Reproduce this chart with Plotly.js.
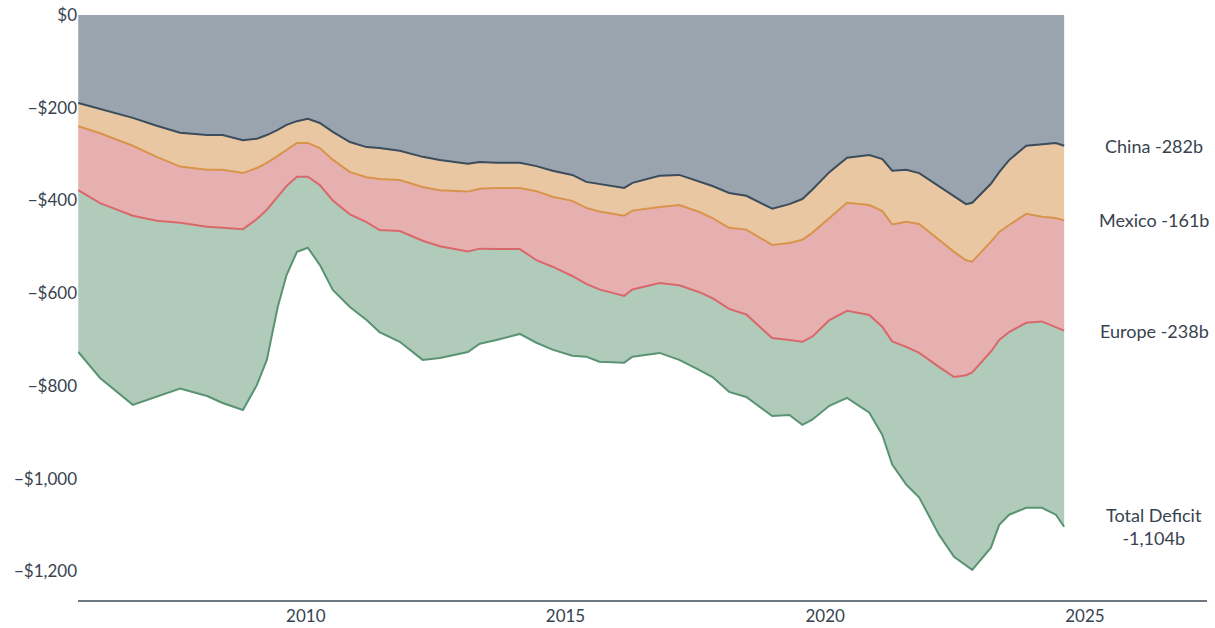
<!DOCTYPE html>
<html>
<head>
<meta charset="utf-8">
<script src="https://cdn.plot.ly/plotly-3.0.1.min.js"></script>
<style>html,body{margin:0;padding:0;background:#fff;}#chart{width:1215px;height:628px;}</style>
</head>
<body>
<div id="chart"></div>
<script>
// Time (decimal years)
const years = [2005.62,2006.04,2006.67,2007.13,2007.58,2008.10,2008.40,2008.79,2009.06,2009.25,
  2009.46,2009.63,2009.83,2010.04,2010.27,2010.52,2010.85,2011.17,2011.42,2011.81,
  2012.25,2012.58,2013.12,2013.35,2013.67,2014.12,2014.44,2014.75,2015.13,2015.40,
  2015.65,2016.13,2016.29,2016.81,2017.19,2017.58,2017.83,2018.15,2018.48,2018.98,
  2019.31,2019.56,2019.75,2020.08,2020.42,2020.85,2021.10,2021.29,2021.56,2021.81,
  2022.19,2022.48,2022.71,2022.83,2023.19,2023.35,2023.54,2023.87,2024.17,2024.44,2024.60];

// Trade deficits, billions USD (negative)
const china = [-190,-203,-222,-239,-254,-259,-259,-270,-267,-259,
  -248,-237,-229,-224,-233,-252,-274,-285,-287,-293,
  -306,-313,-321,-317,-319,-319,-326,-336,-345,-360,
  -364,-373,-362,-347,-345,-360,-369,-384,-390,-418,
  -408,-397,-377,-339,-308,-302,-311,-336,-334,-341,
  -369,-390,-408,-405,-364,-339,-313,-282,-278,-276,-282];
const mexico = [-50,-52,-60,-67,-73,-75,-75,-71,-63,-60,
  -56,-54,-47,-52,-54,-60,-65,-65,-67,-63,
  -65,-65,-60,-58,-54,-54,-54,-56,-56,-56,
  -60,-60,-60,-67,-65,-65,-69,-75,-73,-78,
  -84,-88,-93,-99,-97,-108,-112,-116,-112,-110,
  -116,-121,-121,-127,-125,-129,-140,-147,-157,-162,-161];
const europe = [-138,-151,-151,-138,-121,-123,-125,-121,-110,-101,
  -88,-78,-73,-73,-80,-88,-91,-97,-110,-110,
  -116,-121,-129,-129,-132,-132,-149,-151,-162,-164,
  -168,-173,-170,-164,-173,-173,-173,-175,-183,-201,
  -209,-220,-224,-220,-233,-237,-250,-252,-270,-278,
  -274,-270,-248,-239,-237,-233,-231,-235,-226,-235,-238];
const totalDeficit = [-727,-783,-841,-824,-806,-822,-837,-852,-798,-744,
  -630,-561,-511,-502,-539,-593,-630,-658,-684,-705,
  -744,-740,-727,-709,-701,-688,-707,-722,-735,-737,
  -748,-750,-737,-729,-744,-766,-781,-813,-824,-865,
  -863,-884,-873,-843,-826,-858,-906,-970,-1013,-1041,
  -1121,-1169,-1188,-1197,-1149,-1100,-1078,-1063,-1063,-1078,-1104];

const yTickVals = [0,-200,-400,-600,-800,-1000,-1200];
const yTickText = ["$0","\u2212$200","\u2212$400","\u2212$600","\u2212$800","\u2212$1,000","\u2212$1,200"];
const xTickVals = [2010,2015,2020,2025];
const xTickText = ["2010","2015","2020","2025"];

const other = totalDeficit.map((t,i)=> t - china[i] - mexico[i] - europe[i]);
const last = years.length - 1;

const FONT = "Lato, 'Source Sans Pro', 'Noto Sans', sans-serif";
const TXT = "#38434f";

const mk = (y, fillc, linec, name) => ({
  x: years, y: y, type: 'scatter', mode: 'lines', stackgroup: 'one', name: name,
  fillcolor: fillc, line: {color: linec, width: 2}, hoverinfo: 'skip'
});

const data = [
  mk(china, '#9aa4ae', '#3b4c5c', 'China'),
  mk(mexico, '#e9c7a3', '#d9944c', 'Mexico'),
  mk(europe, '#e6b0b0', '#d9686b', 'Europe'),
  mk(other, '#b0cbba', '#5a9372', 'Total Deficit')
];

const labelX = 2026.33;
const annotations = [
  {x: labelX, y: china[last], text: 'China -' + Math.abs(china[last]) + 'b'},
  {x: labelX, y: china[last] + mexico[last], text: 'Mexico -' + Math.abs(mexico[last]) + 'b'},
  {x: labelX, y: china[last] + mexico[last] + europe[last], text: 'Europe -' + Math.abs(europe[last]) + 'b'},
  {x: labelX, y: totalDeficit[last], text: 'Total Deficit<br>-' + Math.abs(totalDeficit[last]).toLocaleString('en-US') + 'b'}
].map(a => Object.assign(a, {xref: 'x', yref: 'y', showarrow: false, xanchor: 'center', yanchor: 'middle',
  font: {family: FONT, size: 18, color: TXT}}));

const layout = {
  width: 1215, height: 628,
  margin: {l: 78, r: 8, t: 15, b: 28},
  paper_bgcolor: '#ffffff', plot_bgcolor: '#ffffff',
  showlegend: false,
  hovermode: false,
  font: {family: FONT, size: 17, color: TXT},
  xaxis: {
    range: [2005.615, 2027.35], tickvals: xTickVals, ticktext: xTickText,
    showgrid: false, zeroline: false, showline: true, linecolor: '#6e7780', linewidth: 1.5,
    ticks: '', tickfont: {family: FONT, size: 17, color: TXT}, fixedrange: true
  },
  yaxis: {
    range: [-1262, 0], tickvals: yTickVals, ticktext: yTickText,
    showgrid: false, zeroline: false, showline: false,
    ticks: '', ticklen: 0, tickfont: {family: FONT, size: 17, color: TXT}, fixedrange: true
  },
  annotations: annotations
};

Plotly.newPlot('chart', data, layout, {displayModeBar: false, staticPlot: true});
</script>
</body>
</html>
